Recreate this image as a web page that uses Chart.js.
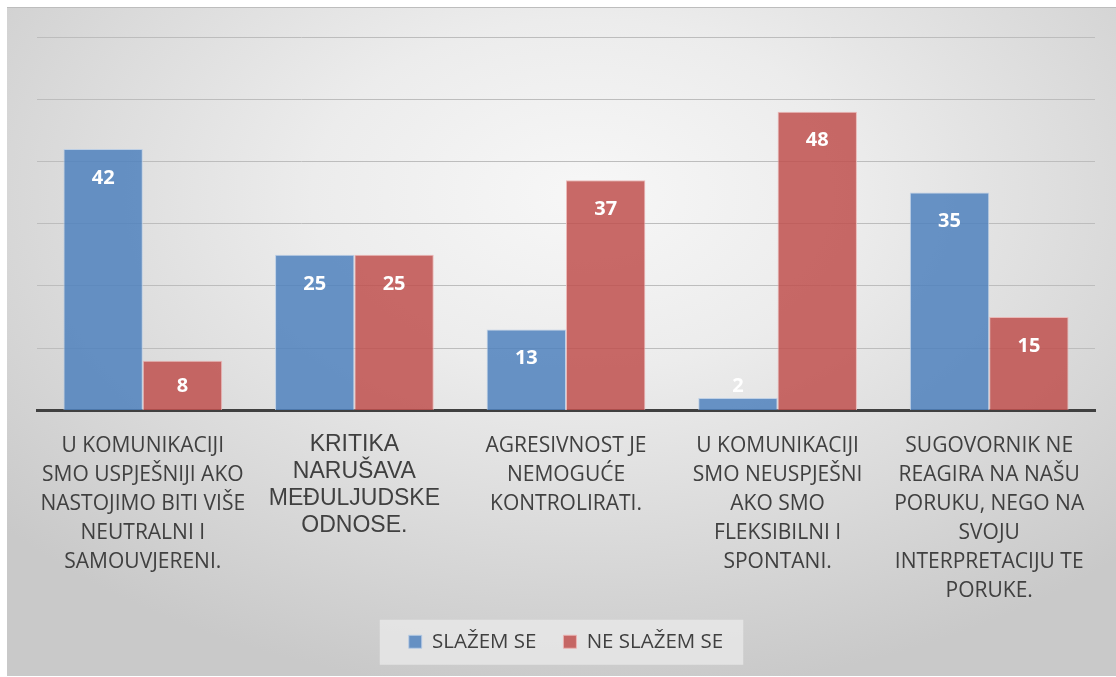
<!DOCTYPE html>
<html>
<head>
<meta charset="utf-8">
<script src="https://cdn.jsdelivr.net/npm/chart.js@4"></script>
<style>
html,body{margin:0;padding:0;background:#fff;}
#frame{position:absolute;left:7px;top:7px;width:1109px;height:668px;border-top:1px solid #bdbdbd;
background:radial-gradient(ellipse 70% 75% at 52% 28%, #f7f7f7 0%, #ececec 35%, #dcdcdc 65%, #c9c9c9 100%);}
#wrap{position:absolute;left:0;top:0;width:1116px;height:677px;}
</style>
</head>
<body>
<div id="frame"></div>
<div id="wrap"><canvas id="c" width="1116" height="677"></canvas></div>
<script>
const categories = [
  ["U KOMUNIKACIJI","SMO USPJEŠNIJI AKO","NASTOJIMO BITI VIŠE","NEUTRALNI I","SAMOUVJERENI."],
  ["KRITIKA","NARUŠAVA","MEĐULJUDSKE","ODNOSE."],
  ["AGRESIVNOST JE","NEMOGUĆE","KONTROLIRATI."],
  ["U KOMUNIKACIJI","SMO NEUSPJEŠNI","AKO SMO","FLEKSIBILNI I","SPONTANI."],
  ["SUGOVORNIK NE","REAGIRA NA NAŠU","PORUKU, NEGO NA","SVOJU","INTERPRETACIJU TE","PORUKE."]
];
const seriesNames = ["SLAŽEM SE","NE SLAŽEM SE"];
const slazemSe = [42,25,13,2,35];
const neSlazemSe = [8,25,37,48,15];
const yTicks = [0,10,20,30,40,50,60];

const labelPlugin = {
  id:'barLabels',
  afterDatasetsDraw(chart){
    const ctx = chart.ctx;
    ctx.save();
    ctx.font = 'bold 20px "Open Sans"';
    ctx.fillStyle = '#ffffff';
    ctx.textAlign = 'center';
    ctx.textBaseline = 'middle';
    chart.data.datasets.forEach((ds,di)=>{
      chart.getDatasetMeta(di).data.forEach((bar,i)=>{
        const y = Math.min(bar.y + 29, bar.base - 24);
        ctx.fillText(String(ds.data[i]), bar.x, y);
      });
    });
    ctx.restore();
  }
};
const legendBg = {
  id:'legendBg',
  beforeDraw(chart){
    const lg = chart.legend;
    if(!lg || !lg.legendHitBoxes || !lg.legendHitBoxes.length) return;
    const hb = lg.legendHitBoxes;
    const first = hb[0], last = hb[hb.length-1];
    const ctx = chart.ctx;
    const cy = first.top + first.height/2;
    ctx.save();
    ctx.fillStyle = 'rgba(236,236,236,0.7)';
    ctx.fillRect(first.left - 29, cy - 22, (last.left + last.width) - first.left + 49, 45);
    ctx.restore();
  }
};

new Chart(document.getElementById('c'), {
  type:'bar',
  data:{
    labels: categories,
    datasets:[
      {label:seriesNames[0], data:slazemSe, backgroundColor:'rgba(79,129,189,0.85)', borderColor:'rgba(185,205,230,0.9)', borderWidth:1},
      {label:seriesNames[1], data:neSlazemSe, backgroundColor:'rgba(192,80,77,0.85)', borderColor:'rgba(235,180,178,0.9)', borderWidth:1}
    ]
  },
  plugins:[labelPlugin, legendBg],
  options:{
    responsive:false,
    animation:false,
    layout:{padding:{left:37,right:21,top:37,bottom:15}},
    plugins:{
      tooltip:{enabled:false},
      legend:{
        position:'bottom',
        labels:{
          boxWidth:13, boxHeight:13, padding:27,
          color:'#404040',
          font:{family:'"Open Sans"', size:20.5}
        }
      }
    },
    datasets:{bar:{categoryPercentage:0.75, barPercentage:1.0}},
    scales:{
      x:{
        grid:{display:false},
        border:{display:true, color:'#404040', width:3},
        afterFit(scale){ scale.height -= 14; },
        ticks:{
          color:'#404040',
          maxRotation:0,
          autoSkip:false,
          padding:13,
          font:(c)=> c.index===1 ? {family:'"Liberation Sans"', size:23, lineHeight:1.17} : {family:'"Open Sans"', size:21, lineHeight:1.381}
        }
      },
      y:{
        min:0, max:60,
        afterBuildTicks(scale){ scale.ticks = yTicks.map(v=>({value:v})); },
        ticks:{display:false},
        border:{display:false},
        grid:{color:'#bdbdbd', lineWidth:1, drawTicks:false}
      }
    }
  }
});
</script>
</body>
</html>
